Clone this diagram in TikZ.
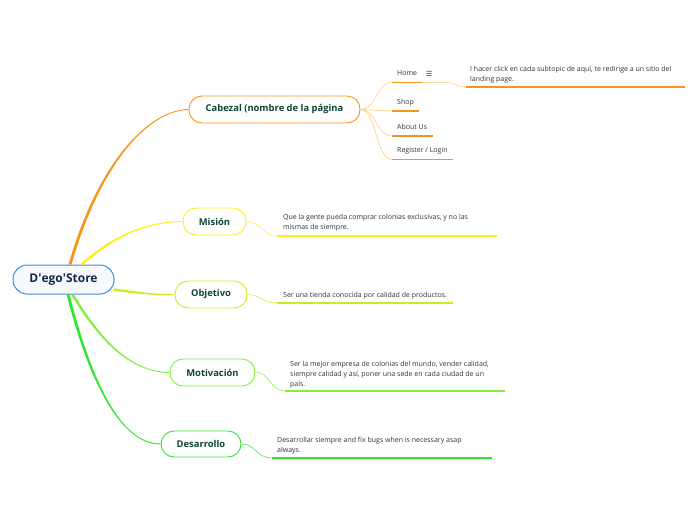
\documentclass[tikz,border=0pt]{standalone}
\usepackage{fontspec}
\setmainfont{Open Sans}
\newfontfamily\dejavu{DejaVu Sans}
\usetikzlibrary{calc}
\definecolor{corange}{HTML}{F7941D}
\definecolor{corangel}{HTML}{FFC46B}
\definecolor{cyellow}{HTML}{FFEE1A}
\definecolor{cygreen}{HTML}{C2F01E}
\definecolor{cgreen}{HTML}{7EF03C}
\definecolor{cbgreen}{HTML}{2EE62E}
\definecolor{cblue}{HTML}{3D8ED6}
\definecolor{cnavy}{HTML}{14264F}
\definecolor{ctitle}{HTML}{0F4536}
\definecolor{ctext}{HTML}{333333}
\newcommand\tbranch[7]{%
  \fill[#1] ($(#2)+(#3)$) .. controls ($(#4)+(#3)$) and ($(#5)+(#7)$) .. ($(#6)+(#7)$)
    -- ($(#6)-(#7)$) .. controls ($(#5)-(#7)$) and ($(#4)-(#3)$) .. ($(#2)-(#3)$) -- cycle;}
\tikzset{
  topic/.style={draw=#1, line width=0.9pt, fill=white, rounded corners=13pt,
    font=\fontsize{9.4}{10}\selectfont\bfseries, text=ctitle, minimum height=27pt, inner sep=0pt},
  rootbox/.style={draw=cblue, line width=1pt, fill=cblue!4, rounded corners=14pt,
    font=\fontsize{12}{13}\selectfont\bfseries, text=cnavy, minimum width=101pt, minimum height=29pt, inner sep=0pt},
  twig/.style={draw=#1, line width=0.5pt},
  uline/.style={draw=#1, line width=1.5pt},
  sub/.style={font=\fontsize{7}{10}\selectfont, text=ctext, anchor=west, inner sep=0pt},
  note/.style={font=\fontsize{7}{10}\selectfont, text=ctext, anchor=west, align=left, inner sep=0pt},
}
\begin{document}
\begin{tikzpicture}[x=1pt,y=-1pt]
\useasboundingbox (0,0) rectangle (696,520);

% main topics
\node[rootbox] (root) at (63.5,279.5) {D\textquotesingle ego\textquotesingle Store};
\node[topic=corange, minimum width=171pt] (cab) at (274.5,109.5) {Cabezal (nombre de la página};
\node[topic=cyellow, minimum width=63pt] (mis) at (214.5,221.5) {Misión};
\node[topic=cygreen, minimum width=72pt] (obj) at (211,294.5) {Objetivo};
\node[topic=cgreen, minimum width=85pt] (mot) at (212.5,372.5) {Motivación};
\node[topic=cbgreen, minimum width=80pt, minimum height=26pt] (des) at (201,444) {Desarrollo};

% main branches (tapered)
\coordinate (r1) at ($(root.north)+(6.5,0)$);
\coordinate (r2) at ($(root.north)+(18,0)$);
\coordinate (r3) at ($(root.east)+(-1,10)$);
\coordinate (r4) at ($(root.south)+(9,0)$);
\coordinate (r5) at ($(root.south)+(4.5,0)$);
\tbranch{corange}{r1}{1.35,0.39}{100,160}{150,110}{cab.west}{0,0.45}
\tbranch{cyellow}{r2}{0.79,0.9}{110,240}{140,222}{mis.west}{0,0.45}
\tbranch{cygreen}{r3}{-0.15,1.19}{140,293}{155,295}{obj.west}{0,0.45}
\tbranch{cgreen}{r4}{-1.03,0.62}{100,340}{130,372}{mot.west}{0,0.45}
\tbranch{cbgreen}{r5}{-1.36,0.35}{90,380}{120,444}{des.west}{0,0.45}

% Cabezal subtopics
\node[sub] (home) at (397,73.5) {Home};
\node[sub, font=\dejavu\fontsize{7}{10}\selectfont] (menu) at (426,73.5) {☰};
\node[sub] (shop) at (397,102.5) {Shop};
\node[sub] (about) at (397,127) {About Us};
\node[sub] (reg) at (397,151) {Register / Login};

\coordinate (h1) at (392,82.5);  \coordinate (h2) at (422,82.5);
\coordinate (s1) at (392,111);   \coordinate (s2) at (419,111);
\coordinate (a1) at (392,136);   \coordinate (a2) at (433,136);
\coordinate (g1) at (392,159.5); \coordinate (g2) at (453,159.5);

\foreach \p in {h1,s1,a1,g1}{
  \draw[twig=corangel] (cab.east) .. controls ($(cab.east)+(16,0)$) and ($(\p)+(-16,0)$) .. (\p);
}
\draw[uline=corange] (h1) -- (h2);
\draw[uline=corange] (s1) -- (s2);
\draw[uline=corange] (a1) -- (a2);
\draw[uline=corange] (g1) -- (g2);

% Home note
\node[note] (hnote) at (470,74.5) {I hacer click en cada subtopic de aquí, te redirige a un sitio del\\landing page.};
\coordinate (hn1) at (466,87); \coordinate (hn2) at (685,87);
\draw[twig=corangel] (h2) -- (446,82.5) .. controls (455,82.5) and (456,87) .. (hn1);
\draw[uline=corange] (hn1) -- (hn2);

% Misión note
\node[note] (mnote) at (283,222.5) {Que la gente pueda comprar colonias exclusivas, y no las\\mismas de siempre.};
\coordinate (mn1) at (277,236); \coordinate (mn2) at (497,236);
\draw[twig=cyellow] (mis.east) .. controls (262,222) and (262,236) .. (mn1);
\draw[uline=cyellow] (mn1) -- (mn2);

% Objetivo note
\node[note] (onote) at (283,295.5) {Ser una tienda conocida por calidad de productos.};
\coordinate (on1) at (277,303); \coordinate (on2) at (453,303);
\draw[twig=cygreen] (obj.east) .. controls (262,295) and (262,303) .. (on1);
\draw[uline=cygreen] (on1) -- (on2);

% Motivación note
\node[note] (vnote) at (290,374.5) {Ser la mejor empresa de colonias del mundo, vender calidad,\\siempre calidad y así, poner una sede en cada ciudad de un\\país.};
\coordinate (vn1) at (285,391); \coordinate (vn2) at (505,391);
\draw[twig=cgreen] (mot.east) .. controls (270,372) and (270,391) .. (vn1);
\draw[uline=cgreen] (vn1) -- (vn2);

% Desarrollo note
\node[note] (dnote) at (277,445.5) {Desarrollar siempre and fix bugs when is necessary asap\\always.};
\coordinate (dn1) at (272,458); \coordinate (dn2) at (492,458);
\draw[twig=cbgreen] (des.east) .. controls (256,444) and (256,458) .. (dn1);
\draw[uline=cbgreen] (dn1) -- (dn2);
\end{tikzpicture}
\end{document}
